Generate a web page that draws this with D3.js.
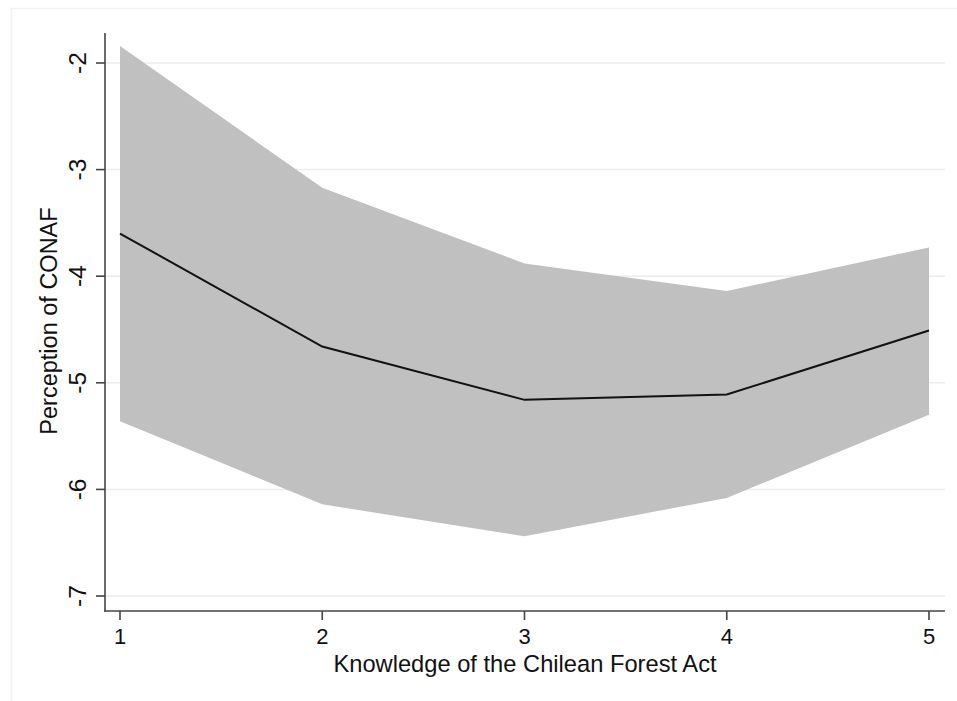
<!DOCTYPE html>
<html><head><meta charset="utf-8">
<script src="https://cdn.jsdelivr.net/npm/d3@7"></script>
<style>html,body{margin:0;padding:0;background:#fff;}svg{display:block;font-family:"Liberation Sans",Arial,Helvetica,sans-serif;}</style>
</head><body>
<svg id="c" width="957" height="701"></svg>
<script>
const knowledge = [1, 2, 3, 4, 5];
const estimate = [-3.60, -4.66, -5.16, -5.11, -4.51];
const upperCI = [-1.84, -3.17, -3.88, -4.14, -3.73];
const lowerCI = [-5.36, -6.14, -6.44, -6.08, -5.30];
const yTicks = [-2, -3, -4, -5, -6, -7];
const xTicks = [1, 2, 3, 4, 5];
const xTitle = "Knowledge of the Chilean Forest Act";
const yTitle = "Perception of CONAF";

const svg = d3.select("#c");
// faint outer frame
svg.append("rect").attr("x", 11.5).attr("y", 8.5).attr("width", 960).attr("height", 700)
  .attr("fill", "none").attr("stroke", "#f2f2f2").attr("stroke-width", 1.5);

const x = d3.scaleLinear().domain([1, 5]).range([120, 929]);
const y = d3.scaleLinear().domain([-2, -7]).range([63, 596]);
const axisX0 = 105, axisY0 = 611, plotRight = 945, plotTop = 33;

// gridlines
svg.append("g").selectAll("line").data(yTicks).join("line")
  .attr("x1", axisX0).attr("x2", plotRight)
  .attr("y1", d => y(d)).attr("y2", d => y(d))
  .attr("stroke", "#ececec").attr("stroke-width", 1.5);

const data = knowledge.map((k, i) => ({k, e: estimate[i], lo: lowerCI[i], hi: upperCI[i]}));

svg.append("path").datum(data)
  .attr("d", d3.area().x(d => x(d.k)).y0(d => y(d.lo)).y1(d => y(d.hi)))
  .attr("fill", "#c0c0c0");

svg.append("path").datum(data)
  .attr("d", d3.line().x(d => x(d.k)).y(d => y(d.e)))
  .attr("fill", "none").attr("stroke", "#111").attr("stroke-width", 2);

// axes
const ax = svg.append("g").attr("stroke", "#444").attr("stroke-width", 1.6);
ax.append("line").attr("x1", axisX0).attr("x2", axisX0).attr("y1", plotTop).attr("y2", axisY0 + 0.8);
ax.append("line").attr("x1", axisX0 - 0.8).attr("x2", plotRight).attr("y1", axisY0).attr("y2", axisY0);
ax.selectAll(".yt").data(yTicks).join("line").attr("class", "yt")
  .attr("x1", axisX0 - 9).attr("x2", axisX0).attr("y1", d => y(d)).attr("y2", d => y(d));
ax.selectAll(".xt").data(xTicks).join("line").attr("class", "xt")
  .attr("x1", d => x(d)).attr("x2", d => x(d)).attr("y1", axisY0).attr("y2", axisY0 + 9);

// tick labels
svg.selectAll(".yl").data(yTicks).join("text").attr("class", "yl")
  .attr("transform", d => `translate(86,${y(d)}) rotate(-90)`)
  .attr("text-anchor", "middle").attr("font-size", 24.5).attr("fill", "#111")
  .text(d => d);
svg.selectAll(".xl").data(xTicks).join("text").attr("class", "xl")
  .attr("x", d => x(d)).attr("y", 644)
  .attr("text-anchor", "middle").attr("font-size", 22).attr("fill", "#111")
  .text(d => d);

// titles
svg.append("text").attr("x", 525).attr("y", 672).attr("text-anchor", "middle")
  .attr("font-size", 23.7).attr("fill", "#111").text(xTitle);
svg.append("text").attr("transform", "translate(57,321) rotate(-90)").attr("text-anchor", "middle")
  .attr("font-size", 23.5).attr("fill", "#111").text(yTitle);
</script>
</body></html>
